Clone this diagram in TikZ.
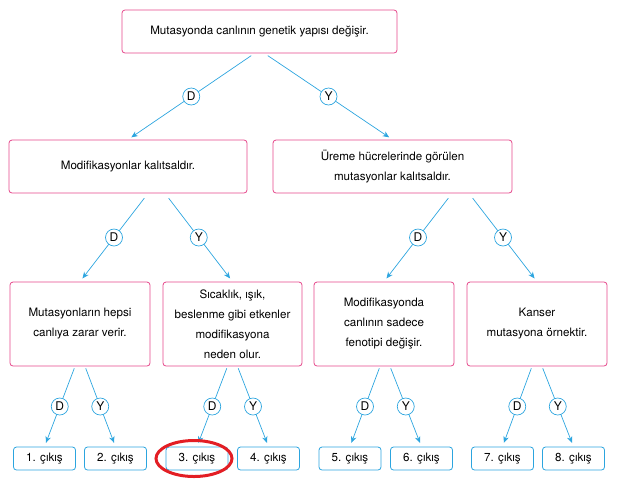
\documentclass[tikz,border=0pt]{standalone}
\usepackage{fontspec}
\setmainfont{TeX Gyre Heros}
\usepackage{tikz}
\usetikzlibrary{arrows.meta}
\definecolor{pembe}{HTML}{E5488B}
\definecolor{mavi}{HTML}{2CA5DF}
\definecolor{kirmizi}{HTML}{E31E24}

\begin{document}
\begin{tikzpicture}[x=1pt,y=-1pt,
    kutu/.style={draw=pembe,line width=0.8pt,rounded corners=3pt,align=center,inner sep=0pt,font=\fontsize{11.6}{20}\selectfont},
    cikis/.style={draw=mavi,line width=0.8pt,rounded corners=3pt,minimum width=62pt,minimum height=23pt,inner sep=0pt,font=\fontsize{11.6}{13}\selectfont},
    ok/.style={draw=mavi,line width=0.7pt,->,>={Stealth[length=6.5pt,width=5.5pt]},shorten >=4pt},
    dy/.style={midway,circle,draw=mavi,fill=white,line width=0.7pt,minimum size=17pt,inner sep=0pt,font=\fontsize{12}{13}\selectfont}]
      \useasboundingbox (0,0) rectangle (620,483);

      \node[kutu,minimum width=275pt,minimum height=43pt] (E) at (259.5, 31.5) {Mutasyonda canlının genetik yapısı değişir.} ;
      \node[kutu,minimum width=238pt,minimum height=53pt] (M) at (128,166.5) {Modifikasyonlar kalıtsaldır.} ;
      \node[kutu,minimum width=239pt,minimum height=53pt] (U) at (392.5,166.5) {Üreme hücrelerinde görülen\\ mutasyonlar kalıtsaldır.} ;
      \node[kutu,minimum width=140pt,minimum height=84pt] (A) at ( 80,324) {Mutasyonların hepsi\\canlıya zarar verir.} ;
      \node[kutu,minimum width=139pt,minimum height=84pt] (B) at (232.5,324) {Sıcaklık, ışık,\\beslenme gibi etkenler\\modifikasyona\\neden olur.} ;
      \node[kutu,minimum width=140pt,minimum height=84pt] (C) at (384,324) {Modifikasyonda\\canlının sadece\\fenotipi değişir.} ;
      \node[kutu,minimum width=140pt,minimum height=84pt] (K) at (537,324) {Kanser\\mutasyona örnektir.} ;

      \node[cikis] (C1) at ( 44.5,458.5) {1. çıkış} ;
      \node[cikis] (C2) at (115.5,458.5) {2. çıkış} ;
      \node[cikis] (C3) at (197,458.5) {3. çıkış} ;
      \node[cikis] (C4) at (268.5,458.5) {4. çıkış} ;
      \node[cikis] (C5) at (350,458.5) {5. çıkış} ;
      \node[cikis] (C6) at (421.5,458.5) {6. çıkış} ;
      \node[cikis] (C7) at (502.5,458.5) {7. çıkış} ;
      \node[cikis] (C8) at (573.5,458.5) {8. çıkış} ;

      \draw[ok,shorten <=4pt] ([xshift=-5pt]E.south) -- node[dy] {D} (M.north) ;
      \draw[ok,shorten <=4pt] ([xshift=5pt]E.south) -- node[dy] {Y} (U.north) ;
      \draw[ok,shorten <=6pt] ([xshift=20pt]M.south) -- node[dy] {D} (A.north) ;
      \draw[ok,shorten <=6pt] ([xshift=37pt]M.south) -- node[dy] {Y} (B.north) ;
      \draw[ok,shorten <=6pt] ([xshift=59.5pt]U.south) -- node[dy] {D} (C.north) ;
      \draw[ok,shorten <=6pt] ([xshift=76.5pt]U.south) -- node[dy] {Y} (K.north) ;
      \draw[ok,shorten <=2pt] ([xshift=-5pt]A.south) -- node[dy] {D} (C1.north) ;
      \draw[ok,shorten <=2pt] ([xshift=5pt]A.south) -- node[dy] {Y} (C2.north) ;
      \draw[ok,shorten <=2pt] ([xshift=-5pt]B.south) -- node[dy] {D} (C3.north) ;
      \draw[ok,shorten <=2pt] ([xshift=5pt]B.south) -- node[dy] {Y} (C4.north) ;
      \draw[ok,shorten <=2pt] ([xshift=-4pt]C.south) -- node[dy] {D} (C5.north) ;
      \draw[ok,shorten <=2pt] ([xshift=6pt]C.south) -- node[dy] {Y} (C6.north) ;
      \draw[ok,shorten <=2pt] ([xshift=-5pt]K.south) -- node[dy] {D} (C7.north) ;
      \draw[ok,shorten <=2pt] ([xshift=5pt]K.south) -- node[dy] {Y} (C8.north) ;

      \draw[kirmizi,line width=3pt] ([xshift=-3pt]C3.center) ellipse [x radius=38pt,y radius=18pt] ;
    \end{tikzpicture}
\end{document}
